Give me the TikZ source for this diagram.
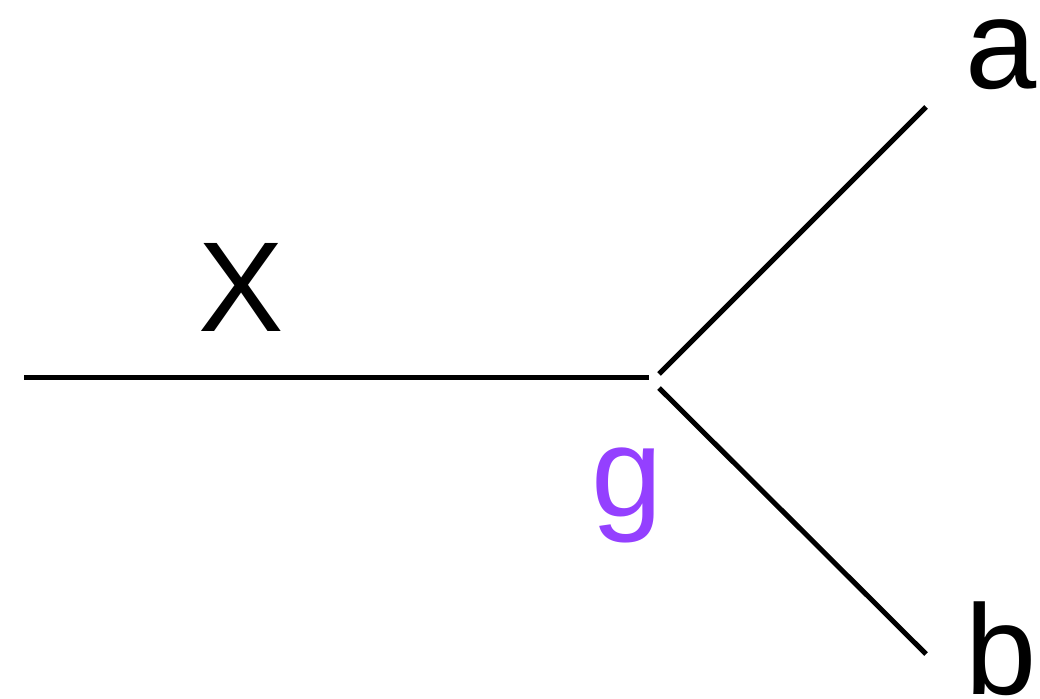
\documentclass[tikz,border=0pt]{standalone}
\usepackage{fontspec}
\setmainfont{Liberation Sans}
\definecolor{gpurple}{RGB}{148,64,255}
\tikzset{
  line/.style={line width=5pt},
  lbl/.style={anchor=base, inner sep=0pt, font=\fontsize{128}{128}\selectfont}
}
\begin{document}
\begin{tikzpicture}[x=1pt,y=-1pt]
\useasboundingbox (0,0) rectangle (1040,698);
\coordinate (xs) at (24,377);
\coordinate (xe) at (649,377);
\coordinate (as) at (659,374);
\coordinate (ae) at (926,107);
\coordinate (bs) at (659,388);
\coordinate (be) at (926,654);
\draw[line] (xs) -- (xe);
\draw[line] (as) -- (ae);
\draw[line] (bs) -- (be);
\node[lbl] (X) at (241,331) {X};
\node[lbl] (a) at (1001,89) {a};
\node[lbl] (b) at (1001,694) {b};
\node[lbl, text=gpurple] (g) at (627,516) {g};
\end{tikzpicture}
\end{document}
